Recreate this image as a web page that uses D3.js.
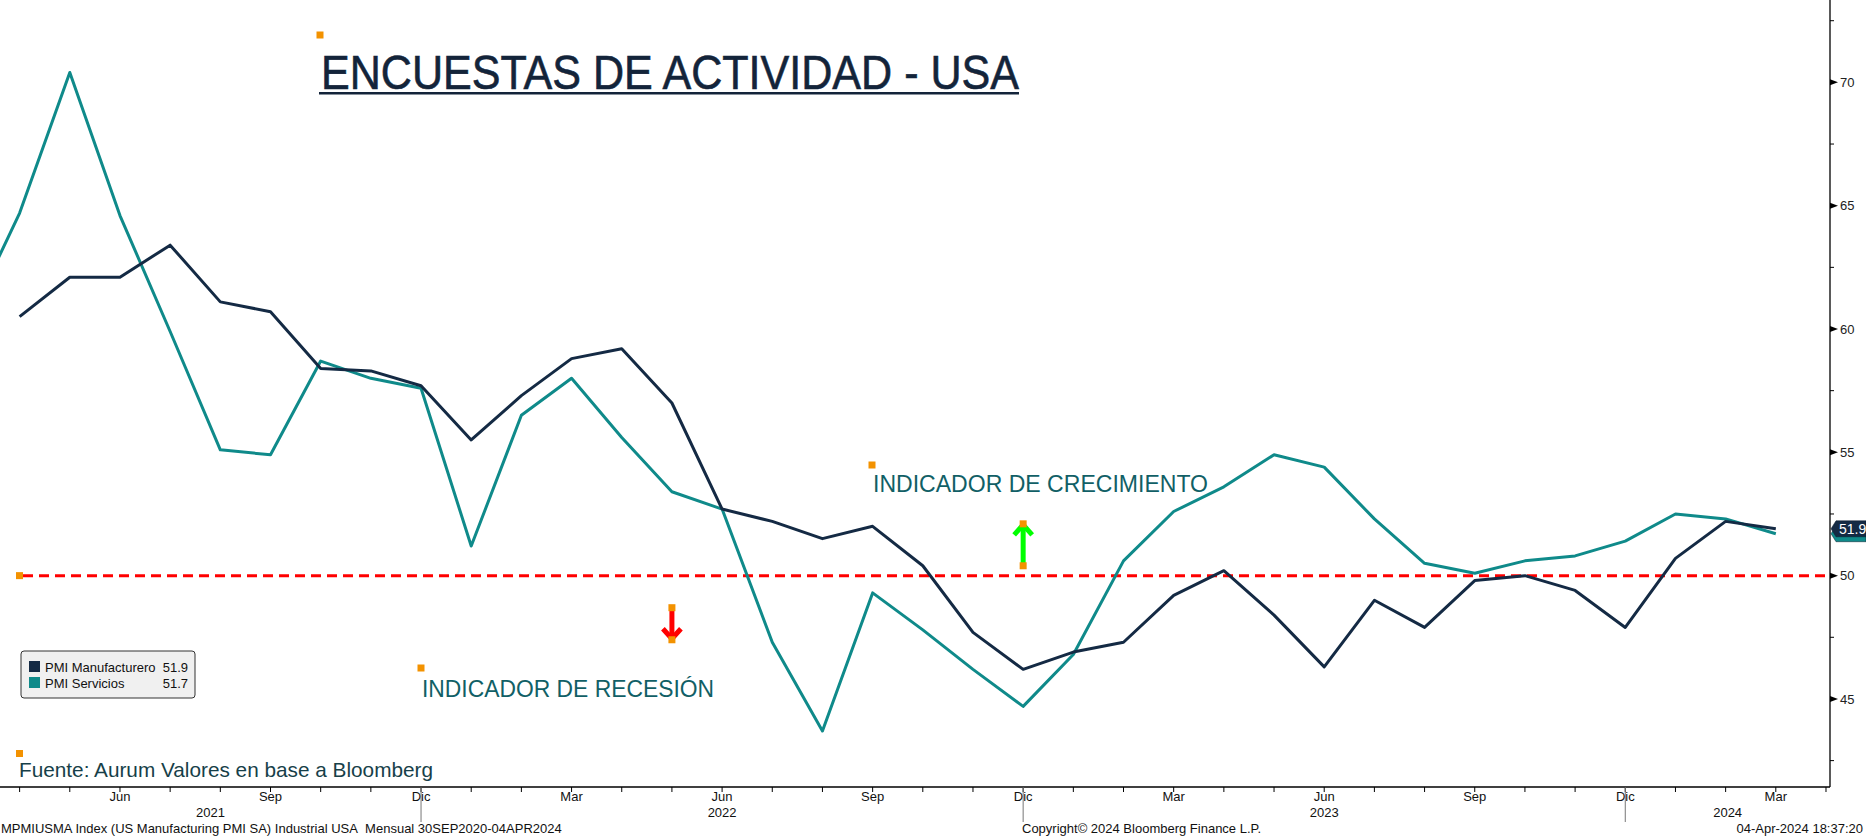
<!DOCTYPE html>
<meta charset="utf-8">
<style>
  body { margin: 0; background: #fff; }
  text { font-family: "Liberation Sans", Arial, sans-serif; }
</style>
<body>
<script src="https://d3js.org/d3.v7.min.js"></script>
<script>
  // meses desde Mar 2021 hasta Mar 2024
  var fechas = ["2021-03","2021-04","2021-05","2021-06","2021-07","2021-08","2021-09","2021-10","2021-11","2021-12",
                "2022-01","2022-02","2022-03","2022-04","2022-05","2022-06","2022-07","2022-08","2022-09","2022-10","2022-11","2022-12",
                "2023-01","2023-02","2023-03","2023-04","2023-05","2023-06","2023-07","2023-08","2023-09","2023-10","2023-11","2023-12",
                "2024-01","2024-02","2024-03"];
  var manufacturero = [null, 60.5, 62.1, 62.1, 63.4, 61.1, 60.7, 58.4, 58.3, 57.7,
                       55.5, 57.3, 58.8, 59.2, 57.0, 52.7, 52.2, 51.5, 52.0, 50.4, 47.7, 46.2,
                       46.9, 47.3, 49.2, 50.2, 48.4, 46.3, 49.0, 47.9, 49.8, 50.0, 49.4, 47.9,
                       50.7, 52.2, 51.9];
  var servicios = [60.4, 64.7, 70.4, 64.6, 59.9, 55.1, 54.9, 58.7, 58.0, 57.6,
                   51.2, 56.5, 58.0, 55.6, 53.4, 52.7, 47.3, 43.7, 49.3, 47.8, 46.2, 44.7,
                   46.8, 50.6, 52.6, 53.6, 54.9, 54.4, 52.3, 50.5, 50.1, 50.6, 50.8, 51.4,
                   52.5, 52.3, 51.7];
  var mesesEs = ["Ene","Feb","Mar","Abr","May","Jun","Jul","Ago","Sep","Oct","Nov","Dic"];
  var anios = ["2021", "2022", "2023", "2024"];
  var yTicks = [45, 50, 55, 60, 65, 70];
  var yMinor = [42.5, 47.5, 52.5, 57.5, 62.5, 67.5, 72.5];
  var series = [
    {name: "PMI Manufacturero", values: manufacturero, color: "#142a44"},
    {name: "PMI Servicios", values: servicios, color: "#0f8a8a"}
  ];

  var W = 1866, H = 838;
  var plotRight = 1830, plotBottom = 787;

  var svg = d3.select("body").append("svg")
      .attr("width", W)
      .attr("height", H);

  var parse = d3.timeParse("%Y-%m");
  var dates = fechas.map(parse);

  var xScale = d3.scaleLinear().domain([0.609, 37.08]).range([0, plotRight]);
  var yScale = d3.scaleLinear().domain([41.43, 73.34]).range([plotBottom, 0]);

  svg.append("clipPath").attr("id", "clip")
    .append("rect").attr("x", 0).attr("y", 0).attr("width", plotRight).attr("height", plotBottom);

  // linea 50
  svg.append("line")
      .attr("x1", 23).attr("x2", plotRight)
      .attr("y1", yScale(50)).attr("y2", yScale(50))
      .attr("stroke", "#ff0000")
      .attr("stroke-width", 3)
      .attr("stroke-dasharray", "10,6");

  var line = d3.line()
      .defined(function(d) { return d != null; })
      .x(function(d, i) { return xScale(i); })
      .y(function(d) { return yScale(d); });

  var g = svg.append("g").attr("clip-path", "url(#clip)");
  series.slice().reverse().forEach(function(s) {
    g.append("path")
        .datum(s.values)
        .attr("d", line)
        .attr("fill", "none")
        .attr("stroke", s.color)
        .attr("stroke-width", 3)
        .attr("stroke-linejoin", "round");
  });

  // eje derecho
  svg.append("line")
      .attr("x1", plotRight).attr("x2", plotRight)
      .attr("y1", 0).attr("y2", plotBottom)
      .attr("stroke", "#000").attr("stroke-width", 1.3);

  svg.selectAll(".ymajor")
      .data(yTicks).enter()
      .append("path")
      .attr("d", function(d) { var y = yScale(d); return "M" + plotRight + "," + (y - 3) + "L" + (plotRight + 8) + "," + y + "L" + plotRight + "," + (y + 3) + "Z"; })
      .attr("fill", "#000");

  svg.selectAll(".ylabel")
      .data(yTicks).enter()
      .append("text")
      .attr("x", plotRight + 10)
      .attr("y", function(d) { return yScale(d); })
      .attr("dy", "0.36em")
      .attr("font-size", 13)
      .attr("fill", "#222")
      .text(function(d) { return d; });

  svg.selectAll(".yminor")
      .data(yMinor).enter()
      .append("line")
      .attr("x1", plotRight).attr("x2", plotRight + 4)
      .attr("y1", function(d) { return yScale(d); })
      .attr("y2", function(d) { return yScale(d); })
      .attr("stroke", "#000");

  // eje inferior
  svg.append("line")
      .attr("x1", 0).attr("x2", plotRight)
      .attr("y1", plotBottom).attr("y2", plotBottom)
      .attr("stroke", "#000").attr("stroke-width", 1.3);

  var tickIdx = d3.range(1, 38);
  svg.selectAll(".xtick")
      .data(tickIdx).enter()
      .append("line")
      .attr("x1", function(d) { return xScale(d); })
      .attr("x2", function(d) { return xScale(d); })
      .attr("y1", plotBottom).attr("y2", plotBottom + 5)
      .attr("stroke", "#000");

  function monthOf(i) { return (i + 2) % 12; }
  var labelIdx = tickIdx.filter(function(i) { return i < dates.length && monthOf(i) % 3 === 2; });
  svg.selectAll(".xlabel")
      .data(labelIdx).enter()
      .append("text")
      .attr("x", function(d) { return xScale(d); })
      .attr("y", plotBottom + 14)
      .attr("text-anchor", "middle")
      .attr("font-family", "'Liberation Sans Narrow', 'DejaVu Sans Condensed', sans-serif")
      .attr("font-size", 13)
      .attr("fill", "#111")
      .text(function(d) { return mesesEs[dates[d].getMonth()]; });

  var seps = tickIdx.filter(function(i) { return monthOf(i) === 11; });
  svg.selectAll(".ysep")
      .data(seps).enter()
      .append("line")
      .attr("x1", function(d) { return xScale(d); })
      .attr("x2", function(d) { return xScale(d); })
      .attr("y1", plotBottom).attr("y2", plotBottom + 35)
      .attr("stroke", "#777");

  var bounds = [xScale.domain()[0]].concat(seps, [xScale.domain()[1]]);
  svg.selectAll(".year")
      .data(anios).enter()
      .append("text")
      .attr("x", function(d, i) { return (xScale(bounds[i]) + xScale(bounds[i + 1])) / 2; })
      .attr("y", plotBottom + 30)
      .attr("text-anchor", "middle")
      .attr("font-family", "'Liberation Sans Narrow', 'DejaVu Sans Condensed', sans-serif")
      .attr("font-size", 13)
      .attr("fill", "#111")
      .text(function(d) { return d; });

  // pie
  var foot = svg.append("g")
      .attr("font-family", "'Liberation Sans Narrow', 'DejaVu Sans Condensed', sans-serif")
      .attr("font-size", 13)
      .attr("fill", "#111");
  foot.append("text").attr("x", 1).attr("y", 833)
      .text("MPMIUSMA Index (US Manufacturing PMI SA) Industrial USA\u00a0 Mensual 30SEP2020-04APR2024");
  foot.append("text").attr("x", 1022).attr("y", 833)
      .text("Copyright\u00a9 2024 Bloomberg Finance L.P.");
  foot.append("text").attr("x", 1863).attr("y", 833).attr("text-anchor", "end")
      .text("04-Apr-2024 18:37:20");

  // etiquetas de ultimo valor (la de servicios queda tapada)
  series.slice().reverse().forEach(function(s, k) {
    var v = s.values[s.values.length - 1];
    var y = yScale(v);
    var tag = svg.append("g");
    tag.append("path")
        .attr("d", "M" + (plotRight + 1) + "," + y + "L" + (plotRight + 6) + "," + (y - 8) + "L" + W + "," + (y - 8) +
                   "L" + W + "," + (y + 8) + "L" + (plotRight + 6) + "," + (y + 8) + "Z")
        .attr("fill", s.color)
        .attr("stroke", "#0b1a2a").attr("stroke-width", 0.5);
    if (k === 1) {
      tag.append("text")
          .attr("x", plotRight + 9).attr("y", y).attr("dy", "0.36em")
          .attr("font-size", 14).attr("fill", "#fff")
          .text(d3.format(".1f")(v));
    }
  });

  // leyenda
  var leg = svg.append("g").attr("transform", "translate(21,651)");
  leg.append("rect")
      .attr("width", 174).attr("height", 47).attr("rx", 3)
      .attr("fill", "#f0f0f0").attr("stroke", "#333").attr("stroke-width", 1);
  series.forEach(function(s, i) {
    leg.append("rect").attr("x", 8).attr("y", 10 + i * 16).attr("width", 11).attr("height", 11).attr("fill", s.color);
    leg.append("text").attr("x", 24).attr("y", 21 + i * 16).attr("font-size", 13).attr("fill", "#111").text(s.name);
    leg.append("text").attr("x", 167).attr("y", 21 + i * 16).attr("font-size", 13).attr("fill", "#111")
        .attr("text-anchor", "end").text(d3.format(".1f")(s.values[s.values.length - 1]));
  });

  // titulo y anotaciones
  var orange = "#f39200";
  function anchor(x, y) {
    svg.append("rect").attr("x", x - 3.5).attr("y", y - 3.5).attr("width", 7).attr("height", 7).attr("fill", orange);
  }

  svg.append("text")
      .attr("x", 321).attr("y", 89)
      .attr("font-family", "Lato, 'Open Sans', sans-serif")
      .attr("font-size", 48)
      .attr("textLength", 698).attr("lengthAdjust", "spacingAndGlyphs")
      .attr("fill", "#13243a")
      .attr("stroke", "#13243a").attr("stroke-width", 0.6)
      .text("ENCUESTAS DE ACTIVIDAD - USA");
  svg.append("rect").attr("x", 319).attr("y", 92).attr("width", 700).attr("height", 2.5).attr("fill", "#13243a");
  anchor(320, 35);

  var annot = [
    {text: "INDICADOR DE CRECIMIENTO", x: 873, y: 492, w: 335, ax: 872, ay: 465},
    {text: "INDICADOR DE RECESIÓN", x: 422, y: 697, w: 292, ax: 421, ay: 668}
  ];
  annot.forEach(function(a) {
    svg.append("text")
        .attr("x", a.x).attr("y", a.y)
        .attr("font-family", "Lato, 'Open Sans', sans-serif")
        .attr("font-size", 24)
        .attr("textLength", a.w).attr("lengthAdjust", "spacingAndGlyphs")
        .attr("fill", "#115f66")
        .text(a.text);
    anchor(a.ax, a.ay);
  });

  svg.append("text")
      .attr("x", 19).attr("y", 777)
      .attr("font-family", "Lato, 'Open Sans', sans-serif")
      .attr("font-size", 21)
      .attr("textLength", 414).attr("lengthAdjust", "spacingAndGlyphs")
      .attr("fill", "#173f49")
      .text("Fuente: Aurum Valores en base a Bloomberg");
  anchor(19.5, 753.5);
  anchor(19.5, yScale(50));

  // flechas
  var arrows = [
    {i: 21, from: 50.4, to: 52.1, color: "#00ff00"},
    {i: 14, from: 48.7, to: 47.4, color: "#ff0000"}
  ];
  arrows.forEach(function(a) {
    var x = xScale(a.i), y0 = yScale(a.from), y1 = yScale(a.to);
    var dir = y1 < y0 ? 1 : -1;
    svg.append("line").attr("x1", x).attr("x2", x).attr("y1", y0).attr("y2", y1)
        .attr("stroke", a.color).attr("stroke-width", 5);
    svg.append("path")
        .attr("d", "M" + (x - 9) + "," + (y1 + dir * 11) + "L" + x + "," + (y1 + dir * 1) + "L" + (x + 9) + "," + (y1 + dir * 11))
        .attr("fill", "none").attr("stroke", a.color).attr("stroke-width", 5);
    anchor(x, y0);
    anchor(x, y1);
  });
</script>
</body>
</html>
